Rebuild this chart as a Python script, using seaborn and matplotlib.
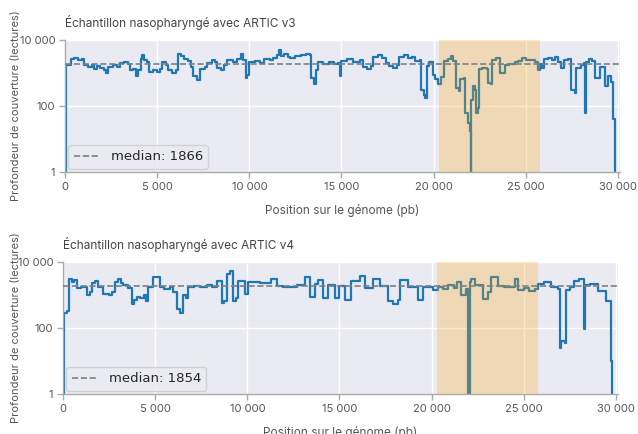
import matplotlib
matplotlib.use("Agg")
import matplotlib.pyplot as plt
import seaborn as sns
import pandas as pd
from matplotlib.ticker import FixedLocator, FuncFormatter, NullLocator


# Profondeur (position pb, lectures), ARTIC v3
pos_v3 = [0, 60, 300, 500, 700, 900, 1050, 1250, 1450, 1600, 1750, 1900, 2100, 2250,
          2350, 2600, 2800, 3000, 3200, 3400, 3500, 3700, 3850, 3950, 4100, 4200, 4300,
          4450, 4550, 4750, 5000, 5150, 5250, 5500, 5600, 5800, 6000, 6130, 6300, 6450,
          6650, 6850, 6950, 7150, 7300, 7350, 7600, 7700, 7950, 8150, 8250, 8450, 8600,
          8800, 9100, 9350, 9550, 9650, 9800, 9900, 10000, 10300, 10600, 10800, 11100,
          11300, 11500, 11600, 11700, 11900, 12100, 12200, 12500, 12800, 13100, 13300,
          13350, 13500, 13600, 13700, 14000, 14300, 14600, 14800, 14900, 15000, 15300,
          15600, 16000, 16150, 16400, 16600, 16700, 17000, 17200, 17400, 17600, 17800,
          18000, 18100, 18400, 18600, 18800, 19000, 19250, 19300, 19450, 19550, 19620,
          19750, 19950, 20100, 20250, 20400, 20550, 20800, 20950, 21050, 21200, 21350,
          21450, 21650, 21700, 21850, 21950, 22000, 22050, 22150, 22250, 22300, 22400,
          22480, 22650, 22900, 22950, 23100, 23150, 23400, 23600, 23850, 24100, 24400,
          24600, 24800, 25000, 25200, 25500, 25650, 25750, 25900, 26000, 26200, 26400,
          26600, 26750, 26900, 27050, 27300, 27450, 27650, 27750, 28000, 28150, 28200,
          28250, 28450, 28600, 28750, 29000, 29200, 29300, 29450, 29600, 29750, 29820,
          29860]
depth_v3 = [1, 1800, 2600, 2900, 2500, 2700, 1700, 1500, 1700, 1300, 1600, 1400, 1250, 1000,
            1500, 1700, 1500, 2000, 2200, 1900, 1200, 1300, 800, 1200, 2600, 3600, 2500,
            2200, 1100, 1200, 1100, 1300, 2100, 1700, 1200, 1000, 1200, 3700, 3200, 2700,
            2300, 1500, 800, 600, 700, 1300, 1500, 2000, 2400, 2100, 1400, 1200, 1700,
            2400, 2200, 2600, 3800, 2500, 700, 900, 2100, 2300, 2000, 2700, 2500,
            2900, 3400, 4900, 3300, 3700, 3000, 2900, 3300, 3500, 3800, 3400,
            700, 450, 1200, 2100, 1900, 2200, 1900, 2000, 800, 2300, 2600,
            2200, 2400, 1500, 1300, 1600, 3100, 3500, 2900, 2000, 1600, 1400,
            1800, 3000, 3600, 2800, 3100, 2300, 2400, 300, 220, 170, 1600,
            2200, 900, 650, 480, 750, 2300, 2600, 3300, 2300, 350, 280,
            650, 700, 60, 30, 18, 1, 150, 400, 300, 60, 90,
            1300, 1400, 1300, 500, 450, 2500, 2800, 1000, 1700, 1900, 2100,
            2300, 2800, 2400, 2500, 2200, 1200, 1900, 1400, 2600, 2900, 2400,
            3000, 2100, 1400, 2400, 2600, 300, 250, 1400, 1700, 2000, 60,
            2200, 2700, 2300, 700, 1500, 1500, 400, 800, 550, 40, 10,
            1]

# ARTIC v4
pos_v4 = [0, 30, 80, 200, 340, 470, 600, 740, 1000, 1280, 1450, 1550, 1750, 1920, 2190,
          2500, 2650, 2820, 3000, 3150, 3270, 3540, 3720, 3850, 4000, 4200, 4400, 4500,
          4630, 4900, 5260, 5500, 5800, 5990, 6170, 6350, 6490, 6650, 6800, 7100, 7430,
          7800, 8100, 8340, 8610, 8750, 8880, 9050, 9240, 9400, 9510, 9870, 10050, 10400,
          10700, 11050, 11300, 11590, 11950, 12300, 12680, 13130, 13400, 13670, 13830,
          14100, 14370, 14730, 15000, 15280, 15640, 16090, 16360, 16810, 17180, 17630,
          17900, 18170, 18260, 18710, 19250, 19530, 20070, 20340, 20600, 20900, 21200,
          21400, 21600, 21880, 21970, 22060, 22150, 22330, 22690, 22780, 23050, 23230,
          23590, 23950, 24500, 24680, 25000, 25300, 25600, 25770, 26100, 26490, 26850,
          26940, 27030, 27210, 27300, 27500, 27750, 28000, 28250, 28300, 28600, 29000,
          29450, 29720, 29800]
depth_v4 = [1, 150, 280, 320, 3100, 2500, 2900, 1600, 1800, 1000, 1200, 2300, 2600, 1700, 1100,
            1000, 1200, 2500, 3100, 2300, 2000, 1600, 550, 700, 900, 800, 1000, 650,
            1700, 3500, 1700, 1500, 1700, 1250, 380, 280, 1000, 800, 1800, 1900, 1800,
            2000, 1700, 2700, 560, 650, 4200, 5200, 650, 800, 2700, 1100, 2400, 2500,
            2300, 2300, 3000, 1900, 1800, 1700, 2000, 3500, 900, 2200, 2800,
            820, 2000, 800, 1900, 700, 2600, 3800, 1600, 3000, 1900, 650,
            550, 700, 2800, 1800, 700, 1700, 1400, 1800, 1500, 2000, 1600,
            2400, 1000, 1500, 1, 2500, 3000, 2000, 2000, 750, 1200, 3400,
            1900, 1700, 3000, 1400, 1600, 1300, 1500, 2200, 2500, 1700, 1500,
            25, 40, 35, 1400, 1700, 2600, 3000, 93, 2000, 2200, 1300,
            650, 10, 1]

panels = [
    ("Échantillon nasopharyngé avec ARTIC v3", pos_v3, depth_v3, 1866),
    ("Échantillon nasopharyngé avec ARTIC v4", pos_v4, depth_v4, 1854),
]
spike_zone = (20300, 25780)

sns.set_theme(style="darkgrid", rc={"axes.facecolor": "#EAEAF2"})
plt.rcParams["font.family"] = ["Inter", "DejaVu Sans"]

fig = plt.figure(figsize=(6.38, 4.34), dpi=100)
boxes = [[65 / 638, 1 - 172 / 434, 555 / 638, 132 / 434],
         [63 / 638, 1 - 394 / 434, 555 / 638, 132 / 434]]


def milliers(v, _):
    return f"{int(round(v)):,}".replace(",", " ")


for box, (titre, pos, prof, med) in zip(boxes, panels):
    ax = fig.add_axes(box)
    df = pd.DataFrame({"pos": pos, "prof": prof})
    sns.lineplot(data=df, x="pos", y="prof", ax=ax, estimator=None, sort=False,
                 drawstyle="steps-post", color="#1f77b4", lw=1.6, zorder=2)
    ax.axvspan(*spike_zone, color="orange", alpha=0.25, lw=0, zorder=3)
    ax.axhline(med, ls="--", color="gray", lw=1.2, zorder=4, label=f"median: {med}")

    ax.set_yscale("log")
    ax.set_ylim(1, 10000)
    ax.set_xlim(0, 30110)
    ax.yaxis.set_major_locator(FixedLocator([1, 100, 10000]))
    ax.yaxis.set_minor_locator(NullLocator())
    ax.xaxis.set_major_locator(FixedLocator([0, 5000, 10000, 15000, 20000, 25000, 30000]))
    ax.yaxis.set_major_formatter(FuncFormatter(milliers))
    ax.xaxis.set_major_formatter(FuncFormatter(milliers))

    for s in ["top", "right"]:
        ax.spines[s].set_visible(False)
    for s in ["left", "bottom"]:
        ax.spines[s].set_color("#aaaaaa")
        ax.spines[s].set_linewidth(1.0)
    ax.tick_params(axis="both", which="major", length=4, width=1, color="#aaaaaa",
                   labelsize=8, labelcolor="#555555", left=True, bottom=True, pad=3)

    ax.set_title(titre, loc="left", fontsize=8.5, color="#444444", pad=9)
    ax.set_ylabel("Profondeur de couverture (lectures)", fontsize=8, color="#555555")
    ax.yaxis.set_label_coords((21 - box[0] * 638) / 555, 0.5)
    ax.set_xlabel("Position sur le génome (pb)", fontsize=8.5, color="#555555", labelpad=9)

    leg = ax.legend(loc="lower left", prop={"family": "DejaVu Sans", "size": 9.5},
                    borderaxespad=0.25, frameon=True, framealpha=0.8, fancybox=True,
                    handlelength=2.0)
    leg.get_frame().set_edgecolor("#cccccc")
    leg.get_frame().set_facecolor("#EAEAF2")

fig.savefig("out.png", dpi=100)
